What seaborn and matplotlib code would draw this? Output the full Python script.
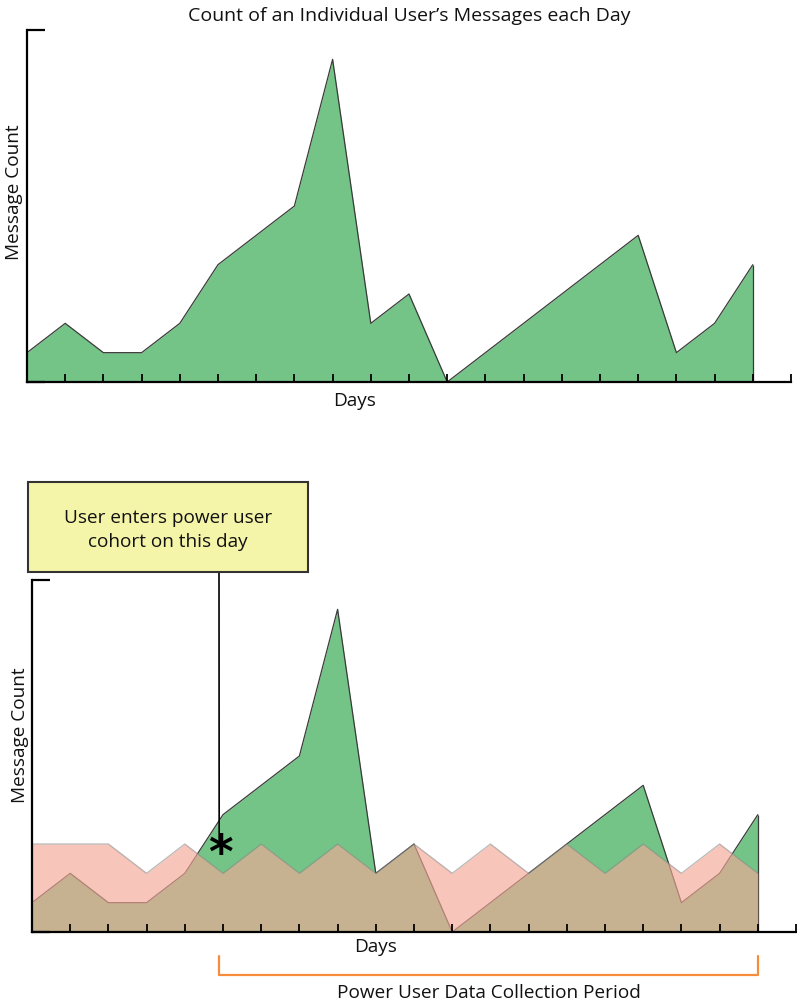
import numpy as np
import pandas as pd
import matplotlib
matplotlib.use("Agg")
import matplotlib.pyplot as plt
import seaborn as sns
from matplotlib.patches import Rectangle
from matplotlib.lines import Line2D

# daily message counts of one user (20 days) and the cohort threshold
days = list(range(20))
user_counts = [1, 2, 1, 1, 2, 4, 5, 6, 11, 2, 3, 0, 1, 2, 3, 4, 5, 1, 2, 4]
cohort_counts = [3, 3, 3, 2, 3, 2, 3, 2, 3, 2, 3, 2, 3, 2, 3, 2, 3, 2, 3, 2]
entry_day = 4.9

df = pd.DataFrame({"Days": days, "user": user_counts, "cohort": cohort_counts})

sns.set_theme(style="white")
plt.rcParams["font.family"] = ["Open Sans", "DejaVu Sans"]
plt.rcParams["text.color"] = "#111111"

W, H = 797, 1004
fig = plt.figure(figsize=(W / 100, H / 100), dpi=100)

green = "#74c487"
pink = "#f3a795"
fs = 13.7


def px(x0, y0, x1, y1):
    # axes rect from pixel box
    return [x0 / W, 1 - y1 / H, (x1 - x0) / W, (y1 - y0) / H]


def style_axes(ax):
    ax.set_xlim(0, 20)
    ax.set_ylim(0, 12)
    for s in ["top", "right"]:
        ax.spines[s].set_visible(False)
    for s in ["left", "bottom"]:
        ax.spines[s].set_color("black")
        ax.spines[s].set_linewidth(1.6)
        ax.spines[s].set_zorder(10)
    ax.xaxis.set_zorder(10)
    ax.yaxis.set_zorder(10)
    ax.set_xticks(range(21))
    ax.set_yticks([0, 12])
    ax.tick_params(axis="x", direction="in", length=6, width=1.3, color="black",
                   labelbottom=False, bottom=True)
    ax.tick_params(axis="y", direction="in", length=13, width=1.6, color="black",
                   labelleft=False, left=True)
    ax.set_xlabel("")
    ax.set_ylabel("")


# top panel
ax1 = fig.add_axes(px(27, 31, 791, 383))
ax1.fill_between(df["Days"], df["user"], color=green, linewidth=0, zorder=1)
sns.lineplot(data=df, x="Days", y="user", ax=ax1, color="#3a3a3a", linewidth=0.9, zorder=2)
ax1.vlines(days[-1], 0, user_counts[-1], color="#3a3a3a", linewidth=0.9, zorder=2)
style_axes(ax1)
ax1.set_title("Count of an Individual User\u2019s Messages each Day", fontsize=14, pad=7,
              color="#111111")
fig.text(355 / W, 1 - 401 / H, "Days", ha="center", va="center", fontsize=fs)
fig.text(14 / W, 1 - 192 / H, "Message Count", ha="center", va="center",
         rotation=90, fontsize=fs)

# bottom panel
ax2 = fig.add_axes(px(32, 581, 796, 933))
ax2.fill_between(df["Days"], df["user"], color=green, linewidth=0, zorder=1)
sns.lineplot(data=df, x="Days", y="user", ax=ax2, color="#3a3a3a", linewidth=0.9, zorder=2)
ax2.vlines(days[-1], 0, user_counts[-1], color="#3a3a3a", linewidth=0.9, zorder=2)
ax2.fill_between(df["Days"], df["cohort"], color=pink, alpha=0.65, linewidth=0, zorder=3)
sns.lineplot(data=df, x="Days", y="cohort", ax=ax2, color="#8a8a8a", alpha=0.6,
             linewidth=0.9, zorder=4)
style_axes(ax2)
fig.text(376 / W, 1 - 947 / H, "Days", ha="center", va="center", fontsize=fs)
fig.text(20 / W, 1 - 735 / H, "Message Count", ha="center", va="center",
         rotation=90, fontsize=fs)

# annotation box + pointer
fig.add_artist(Rectangle((28 / W, 1 - 573 / H), 280 / W, 90 / H, transform=fig.transFigure,
                         facecolor="#f5f5a9", edgecolor="#333333", linewidth=1.5))
fig.text(168 / W, 1 - 530 / H, "User enters power user\ncohort on this day", ha="center",
         va="center", fontsize=fs, linespacing=1.45)
ax2.annotate("", xy=(entry_day, 3.0), xycoords="data",
             xytext=(219, H - 573), textcoords="figure pixels",
             arrowprops=dict(arrowstyle="-", color="black", linewidth=1.2,
                             shrinkA=0, shrinkB=0))
ax2.text(entry_day + 0.02, 2.65, "*", ha="center", va="center", fontsize=34, fontweight="bold",
         family="DejaVu Sans", color="black", zorder=6)

# data collection bracket
bx0 = ax2.transData.transform((entry_day, 0))[0] / W
bx1 = ax2.transData.transform((days[-1], 0))[0] / W
fig.add_artist(Line2D([bx0, bx0, bx1, bx1], [1 - 957 / H, 1 - 976 / H, 1 - 976 / H, 1 - 957 / H],
                      transform=fig.transFigure, color="#f78c3c", linewidth=1.6))
fig.text(489 / W, 1 - 993 / H, "Power User Data Collection Period", ha="center",
         va="center", fontsize=fs)

fig.savefig("out.png", dpi=100)
